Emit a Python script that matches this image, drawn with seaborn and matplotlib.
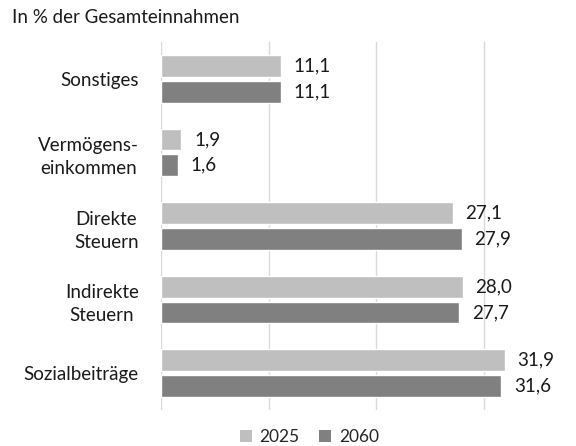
import pandas as pd
import matplotlib.pyplot as plt
from matplotlib.patches import Patch
import seaborn as sns

## Daten
categories = ['Sonstiges', 'Vermögens-\neinkommen', 'Direkte\nSteuern', 'Indirekte\nSteuern', 'Sozialbeiträge']
years = ['2025', '2060']
values_2025 = [11.1, 1.9, 27.1, 28.0, 31.9]
values_2060 = [11.1, 1.6, 27.9, 27.7, 31.6]
colors = ['#bfbfbf', '#808080']

df = pd.DataFrame({
    'Kategorie': categories * 2,
    'Jahr': [years[0]] * len(categories) + [years[1]] * len(categories),
    'Wert': values_2025 + values_2060,
})

sns.set_theme(style='white')
plt.rcParams['font.family'] = ['Lato', 'DejaVu Sans']

fig = plt.figure(figsize=(5.76, 4.46), dpi=100)
ax = fig.add_axes([0.2795, 0.0807, 0.6545, 0.8251])

sns.barplot(data=df, y='Kategorie', x='Wert', hue='Jahr', orient='h',
            palette=colors, width=0.7, gap=0.15,
            saturation=1, ax=ax, legend=False)

for cont in ax.containers:
    ax.bar_label(cont, labels=[f'{v:.1f}'.replace('.', ',') for v in cont.datavalues],
                 padding=9, fontsize=13.5, color='#1a1a1a')

ax.set_xlim(0, 35)
ax.set_ylim(4.5, -0.5)
ax.set_xticks([0, 10, 20, 30])
ax.set_xticklabels([])
ax.xaxis.grid(True, color='#d9d9d9', linewidth=1)
ax.set_axisbelow(True)
ax.set_xlabel('')
ax.set_ylabel('')
for s in ax.spines.values():
    s.set_visible(False)
ax.tick_params(axis='y', length=0, pad=16, labelsize=13.5, labelcolor='#1a1a1a')
ax.tick_params(axis='x', length=0)
for t in ax.get_yticklabels():
    t.set_linespacing(1.45)
    t.set_multialignment('center')

# Legende unten
handles = [Patch(facecolor=c, edgecolor='none') for c in colors]
fig.legend(handles, years, loc='center', bbox_to_anchor=(0.537, 0.02), ncol=2,
           frameon=False, fontsize=12.5, handlelength=0.7, handleheight=0.7,
           handletextpad=0.45, columnspacing=1.1)

fig.text(0.021, 0.96, 'In % der Gesamteinnahmen', fontsize=13.5, color='#1a1a1a', va='center')

plt.savefig('out.png', dpi=100)
